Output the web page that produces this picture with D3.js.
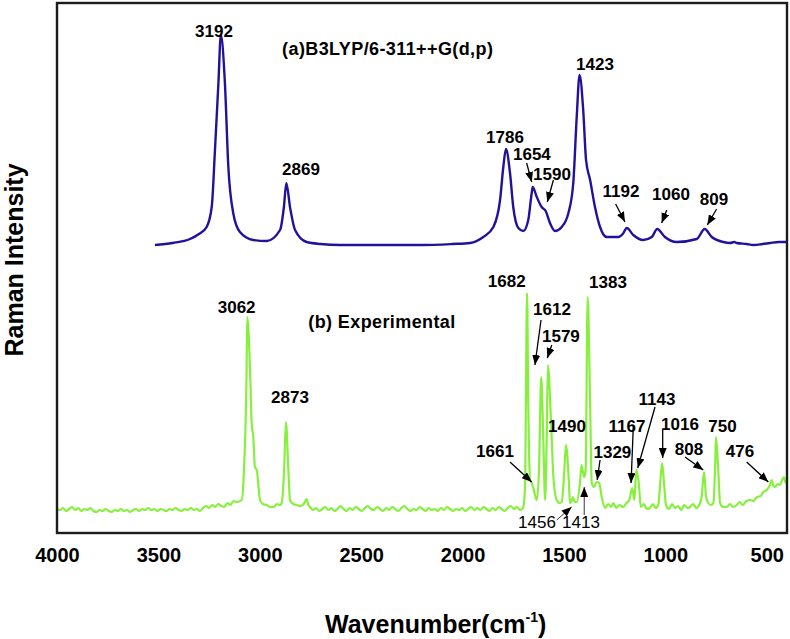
<!DOCTYPE html>
<html>
<head>
<meta charset="utf-8">
<script src="https://cdn.jsdelivr.net/npm/d3@7"></script>
<style>
  body { margin: 0; background: #fff; }
  text { font-family: "Liberation Sans", Arial, sans-serif; }
</style>
</head>
<body>
<div class="chart"></div>
<script>
// wavenumber (cm-1), intensity (a.u.)
const calcSpectrum = [
  [3517,28.8],[3430,29.0],[3344,29.4],[3300,29.9],[3262,30.6],[3237,32.6],[3221,38.3],[3204,45.0],[3192,49.8],
  [3172,45.0],[3155,36.6],[3131,32.0],[3098,30.1],[3032,29.3],[2966,29.2],[2900,30.3],[2881,32.6],[2869,35.0],
  [2851,32.6],[2826,30.3],[2769,29.1],[2700,28.9],[2604,28.8],[2400,28.8],[2200,28.8],[2050,28.9],[1963,29.0],
  [1898,29.6],[1848,30.6],[1815,33.3],[1799,36.6],[1786,38.4],[1766,36.0],[1750,32.6],[1725,30.5],[1700,30.2],
  [1676,31.3],[1659,34.0],[1654,34.6],[1634,33.6],[1610,32.6],[1590,32.2],[1569,31.0],[1544,30.2],[1511,30.6],
  [1478,32.0],[1454,35.0],[1437,41.6],[1423,45.8],[1405,42.3],[1391,37.3],[1371,35.3],[1347,32.6],[1322,30.6],
  [1289,29.6],[1232,29.6],[1210,29.9],[1190,30.5],[1158,29.8],[1109,29.3],[1067,29.6],[1040,30.4],[1002,29.6],
  [944,29.1],[845,29.4],[806,30.4],[771,29.6],[714,29.1],[680,29.0],[660,29.1],[648,29.0],[600,28.9],[566,28.8],
  [520,28.9],[484,29.0],[440,29.1],[401,29.1]
]

const exptSpectrum = [
  [4000,2.4],[3985,2.3],[3970,2.5],[3955,2.2],[3940,2.4],[3925,2.6],[3910,2.3],[3895,2.5],[3880,2.2],[3865,2.4],
  [3850,2.3],[3835,2.5],[3820,2.2],[3805,2.1],[3790,2.3],[3775,2.2],[3760,2.4],[3745,2.2],[3730,2.1],[3715,2.3],
  [3700,2.2],[3685,2.4],[3670,2.2],[3655,2.3],[3640,2.1],[3625,2.3],[3610,2.4],[3595,2.2],[3580,2.4],[3565,2.3],
  [3550,2.5],[3535,2.3],[3520,2.4],[3505,2.2],[3490,2.4],[3475,2.3],[3460,2.2],[3445,2.4],[3430,2.3],[3415,2.5],
  [3400,2.3],[3385,2.2],[3370,2.4],[3355,2.3],[3340,2.5],[3325,2.3],[3310,2.4],[3295,2.2],[3280,2.5],[3265,2.7],
  [3250,2.5],[3235,2.8],[3220,2.6],[3205,2.9],[3190,2.7],[3175,2.6],[3160,3.0],[3145,2.8],[3130,3.2],[3114,3.1],
  [3089,3.3],[3078,6.3],[3065,16.3],[3062,21.6],[3048,16.3],[3040,11.0],[3032,9.6],[3024,6.6],[3015,6.3],
  [2999,3.3],[2985,2.9],[2966,2.8],[2950,2.6],[2933,2.6],[2915,2.9],[2900,2.8],[2892,3.0],[2880,6.3],[2871,11.1],
  [2859,6.3],[2851,3.3],[2835,2.9],[2818,2.8],[2800,2.7],[2780,3.0],[2769,3.4],[2760,2.8],[2752,2.6],
  [2737,2.3],[2722,2.5],[2707,2.2],[2692,2.4],[2677,2.6],[2662,2.3],[2647,2.5],[2632,2.2],[2617,2.4],[2602,2.7],
  [2587,2.4],[2572,2.2],[2557,2.5],[2542,2.3],[2527,2.6],[2512,2.4],[2497,2.2],[2482,2.5],[2467,2.7],[2452,2.4],
  [2437,2.3],[2422,2.6],[2407,2.4],[2392,2.2],[2377,2.5],[2362,2.3],[2347,2.6],[2332,2.4],[2317,2.2],[2302,2.5],
  [2287,2.7],[2272,2.4],[2257,2.2],[2242,2.4],[2227,2.3],[2212,2.6],[2197,2.4],[2182,2.2],[2167,2.5],[2152,2.3],
  [2137,2.4],[2122,2.2],[2107,2.5],[2092,2.3],[2077,2.6],[2062,2.4],[2047,2.2],[2032,2.4],[2017,2.3],[2002,2.5],
  [1987,2.2],[1972,2.4],[1957,2.6],[1942,2.3],[1927,2.5],[1912,2.3],[1897,2.6],[1882,2.4],[1867,2.2],[1852,2.5],
  [1837,2.3],[1822,2.6],[1807,2.4],[1792,2.2],[1777,2.5],[1762,2.7],[1747,2.4],[1732,2.6],[1717,2.3],[1702,2.5],
  [1692,4.6],[1682,24.0],[1676,13.0],[1667,5.3],[1661,5.1],[1651,4.5],[1634,3.3],[1623,6.3],[1612,15.6],
  [1602,9.6],[1593,3.3],[1585,9.6],[1579,16.8],[1564,11.3],[1552,5.6],[1536,3.3],[1522,3.0],[1511,3.1],
  [1498,6.3],[1490,8.8],[1477,5.6],[1470,3.0],[1462,3.2],[1456,3.6],[1447,3.1],[1437,3.1],[1421,5.0],
  [1413,6.8],[1401,5.6],[1393,6.3],[1383,23.6],[1371,13.0],[1363,5.0],[1352,4.6],[1338,5.1],[1326,5.0],
  [1314,3.6],[1297,2.5],[1282,2.9],[1267,2.6],[1257,3.0],[1242,2.5],[1227,2.8],[1207,2.6],[1192,3.0],
  [1178,3.3],[1163,4.5],[1153,3.3],[1143,6.3],[1131,5.0],[1121,2.6],[1106,2.9],[1091,2.4],[1076,2.5],
  [1061,2.9],[1048,2.5],[1035,2.8],[1023,5.6],[1016,7.0],[1005,4.6],[997,2.8],[982,2.4],[967,2.9],[952,2.5],
  [937,2.7],[922,2.3],[907,2.8],[892,2.5],[878,2.6],[863,2.9],[848,2.5],[833,2.8],[821,3.6],[809,6.1],
  [799,3.6],[788,3.0],[775,2.8],[763,3.0],[754,7.0],[750,9.6],[739,6.3],[730,3.0],[715,2.6],[697,2.6],
  [682,2.9],[667,2.6],[648,2.8],[633,3.1],[618,2.8],[600,3.2],[582,3.3],[565,3.2],[548,3.6],[530,3.7],
  [517,4.1],[500,4.3],[484,4.8],[476,5.3],[467,4.7],[459,4.6],[447,4.9],[434,4.8],[424,5.3],[415,5.6],
  [408,5.1],[401,5.0]
]

const xTicks = [4000, 3500, 3000, 2500, 2000, 1500, 1000, 500]

// peak labels: text, wavenumber, intensity of the label baseline
const calcLabels = [
  ['3192',3226,49.6],['2869',2797,35.8],['1786',1791,39.0],['1654',1658,37.3],['1590',1559,35.3],
  ['1423',1347,46.3],['1192',1219,33.6],['1060',972,33.3],['809',760,32.8]
]
const exptLabels = [
  ['3062',3114,22.0],['2873',2851,13.0],['1682',1782,24.6],['1383',1283,24.5],['1612',1559,21.8],
  ['1579',1515,19.1],['1490',1485,10.1],['1661',1840,7.6],['1329',1261,7.5],['1167',1189,10.1],
  ['1143',1041,12.8],['1016',928,10.3],['750',718,10.1],['808',883,7.8],['476',632,7.6]
]
const exptSmallLabels = [['1456',1633,0.5],['1413',1416,0.5]]

// arrows: from [w, v] to [w, v]
const calcArrows = [
  [1684,37.0,1659,35.1],[1552,35.3,1582,33.1],[1245,32.9,1199,31.1],[993,32.3,1018,31.0],[747,32.4,793,30.8]
]
const exptArrows = [
  [1613,21.3,1643,16.8],[1560,18.8,1582,17.5],[1766,7.1,1659,5.1],[1322,7.3,1336,5.3],[1158,10.6,1169,5.0],
  [1051,12.6,1136,6.5],[1013,10.3,1013,7.5],[903,7.6,813,6.3],[599,7.1,492,5.1]
]
const exptThinArrows = [[1536,1.3,1462,2.6],[1400,1.8,1400,4.6]]

const captions = [['(a)B3LYP/6-311++G(d,p)',2890,47.8],['(b) Experimental',2761,20.5]]

const margin = ({top: 3, right: 3, bottom: 106, left: 57})
const width = 790 - margin.left - margin.right,
      height = 639 - margin.top - margin.bottom

const root = d3.select(".chart").append("svg")
  .attr("width", 790)
  .attr("height", 639)

root.append("defs").append("marker")
  .attr("id", "head")
  .attr("markerUnits", "userSpaceOnUse")
  .attr("viewBox", "0 0 10 8")
  .attr("refX", 10).attr("refY", 4)
  .attr("markerWidth", 10).attr("markerHeight", 8)
  .attr("orient", "auto")
  .append("path").attr("d", "M0,0L10,4L0,8Z").attr("fill", "#000")

root.select("defs").append("clipPath").attr("id", "clip")
  .append("rect").attr("width", width).attr("height", height)

const svg = root.append("g")
  .attr("transform", "translate(" + margin.left + "," + margin.top + ")")

const x = d3.scaleLinear().domain([4000, 400]).range([0, width])
const y = d3.scaleLinear().domain([0, 53]).range([height, 0])

const line = d3.line()
  .x(d => x(d[0]))
  .y(d => y(d[1]))
  .curve(d3.curveMonotoneX)

const plot = svg.append("g").attr("clip-path", "url(#clip)")

plot.append("path")
  .datum(calcSpectrum)
  .attr("d", line)
  .attr("fill", "none")
  .attr("stroke", "#21119c")
  .attr("stroke-width", 2.4)
  .attr("stroke-linejoin", "round")

plot.append("path")
  .datum(exptSpectrum)
  .attr("d", line)
  .attr("fill", "none")
  .attr("stroke", "#86f03c")
  .attr("stroke-width", 2.2)
  .attr("stroke-linejoin", "round")

// frame
svg.append("rect")
  .attr("width", width)
  .attr("height", height)
  .attr("fill", "none")
  .attr("stroke", "#1c1c1c")
  .attr("stroke-width", 2.4)

const xAxis = d3.axisBottom(x)
  .tickValues(xTicks)
  .tickSize(0)
  .tickPadding(15)
  .tickFormat(d3.format("d"))

svg.append("g")
  .attr("class", "axis x-axis")
  .attr("transform", `translate(0, ${height})`)
  .call(xAxis)
  .call(g => g.select(".domain").remove())
  .selectAll("text")
  .attr("font-family", "Liberation Sans, Arial, sans-serif")
  .attr("font-size", 20)
  .attr("font-weight", "bold")
  .attr("fill", "#000")

// peak labels
const allLabels = calcLabels.concat(exptLabels)
svg.selectAll(".peak")
  .data(allLabels)
  .enter()
  .append("text")
  .attr("class", "peak")
  .attr("x", d => x(d[1]))
  .attr("y", d => y(d[2]))
  .attr("text-anchor", "middle")
  .attr("font-size", 17)
  .attr("font-weight", "bold")
  .text(d => d[0])

svg.selectAll(".small")
  .data(exptSmallLabels)
  .enter()
  .append("text")
  .attr("class", "small")
  .attr("x", d => x(d[1]))
  .attr("y", d => y(d[2]))
  .attr("text-anchor", "middle")
  .attr("font-size", 17)
  .text(d => d[0])

svg.selectAll(".caption")
  .data(captions)
  .enter()
  .append("text")
  .attr("class", "caption")
  .attr("x", d => x(d[1]))
  .attr("y", d => y(d[2]))
  .attr("font-size", 18)
  .attr("letter-spacing", 0.4)
  .attr("font-weight", "bold")
  .text(d => d[0])

svg.selectAll(".arrow")
  .data(calcArrows.concat(exptArrows))
  .enter()
  .append("line")
  .attr("class", "arrow")
  .attr("x1", d => x(d[0])).attr("y1", d => y(d[1]))
  .attr("x2", d => x(d[2])).attr("y2", d => y(d[3]))
  .attr("stroke", "#000")
  .attr("stroke-width", 1.3)
  .attr("marker-end", "url(#head)")

svg.selectAll(".thin")
  .data(exptThinArrows)
  .enter()
  .append("line")
  .attr("class", "thin")
  .attr("x1", d => x(d[0])).attr("y1", d => y(d[1]))
  .attr("x2", d => x(d[2])).attr("y2", d => y(d[3]))
  .attr("stroke", "#000")
  .attr("stroke-width", 0.8)
  .attr("marker-end", "url(#head)")

// axis titles
const xTitle = root.append("text")
  .attr("x", 325)
  .attr("y", 633)
  .attr("font-size", 25)
  .attr("font-weight", "bold")
xTitle.append("tspan").text("Wavenumber(cm")
xTitle.append("tspan").text("-1").attr("font-size", 14).attr("dy", -11)
xTitle.append("tspan").text(")").attr("dy", 11)

root.append("text")
  .attr("transform", "translate(23, 260) rotate(-90)")
  .attr("text-anchor", "middle")
  .attr("font-size", 25)
  .attr("font-weight", "bold")
  .text("Raman Intensity")
</script>
</body>
</html>
